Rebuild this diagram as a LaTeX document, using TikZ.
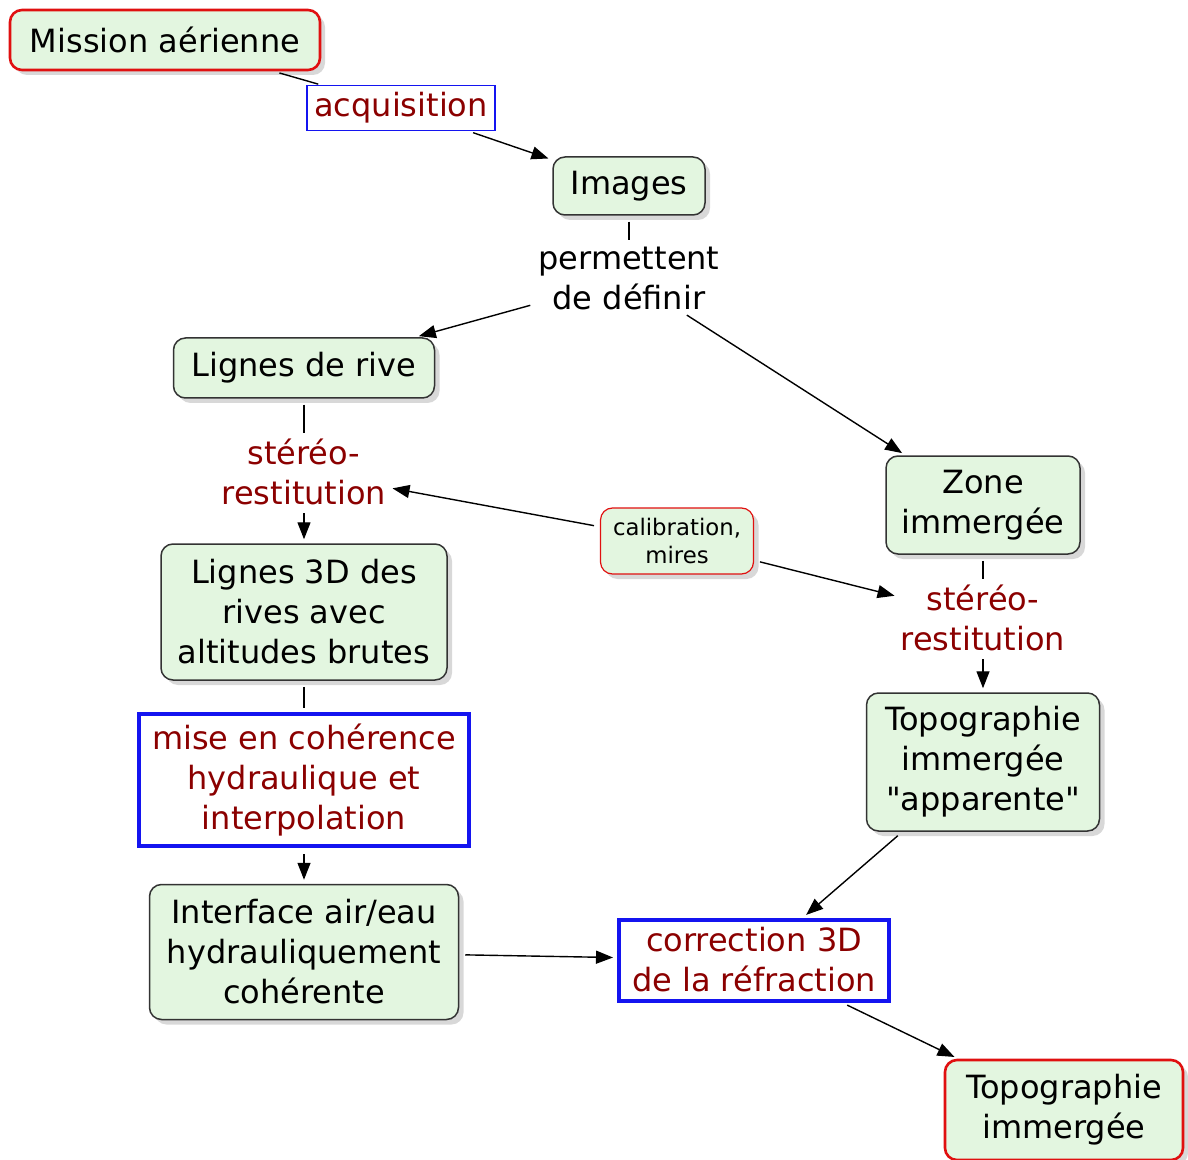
\documentclass[tikz,border=0pt]{standalone}
\usepackage{fontspec}
\setmainfont{DejaVu Sans}
\usetikzlibrary{positioning,arrows.meta,shadows}
\definecolor{conceptbg}{HTML}{E3F6E0}
\definecolor{linkred}{HTML}{8B0000}
\definecolor{rootred}{HTML}{E01010}
\definecolor{procblue}{HTML}{1414F0}
\definecolor{edgegray}{HTML}{333333}

\tikzset{
  concept/.style={draw=edgegray, line width=0.75pt, rounded corners=6pt, fill=conceptbg, align=center,
    drop shadow={shadow xshift=2.5pt, shadow yshift=-2.5pt, fill=black!30}},
  rootconcept/.style={concept, draw=rootred, line width=1.3pt},
  linkbox/.style={draw=procblue, line width=0.6pt, fill=white, text=linkred, align=center},
  procbox/.style={draw=procblue, line width=2pt, fill=white, text=linkred, align=center},
  linklabel/.style={align=center, inner sep=1pt},
  link/.style={line width=0.7pt, shorten <=3pt, shorten >=2pt},
}

\begin{document}
\begin{tikzpicture}[x=0.5pt, y=-0.5pt, >={Triangle[length=8.5pt,width=6.5pt]}, font=\fontsize{16}{20}\selectfont]
  \useasboundingbox (0,0) rectangle (1188,1160);

  % Acquisition
  \node[rootconcept, minimum width=155pt, minimum height=30pt] (mission) at (165,40) {Mission aérienne};
  \node[linkbox, minimum width=94pt, minimum height=21.5pt] (acq) at (401,108) {acquisition};
  \node[concept, minimum width=76pt, minimum height=29pt] (images) at (629,186) {Images};
  \node[linklabel] (define) at (629,278) {permettent\\de définir};

  % Left branch: banks
  \node[concept, minimum width=130.5pt, minimum height=30pt] (rive) at (304,368) {Lignes de rive};
  \node[linklabel, text=linkred] (stereoL) at (304,472) {stéréo-\\restitution};
  \node[concept, minimum width=143pt, minimum height=68pt] (rive3d) at (304,612) {Lignes 3D des\\rives avec\\altitudes brutes};
  \node[procbox, minimum width=165pt, minimum height=66pt] (coher) at (304,780) {mise en cohérence\\hydraulique et\\interpolation};
  \node[concept, minimum width=154.5pt, minimum height=67.5pt] (iface) at (304,952) {Interface air/eau\\hydrauliquement\\cohérente};

  % Right branch: submerged zone
  \node[concept, minimum width=97pt, minimum height=49pt] (zone) at (983,505) {Zone\\immergée};
  \node[concept, draw=rootred, line width=0.6pt, minimum width=76.5pt, minimum height=33pt,
    font=\fontsize{11.4}{14}\selectfont] (calib) at (677,541) {calibration,\\mires};
  \node[linklabel, text=linkred] (stereoR) at (983,618) {stéréo-\\restitution};
  \node[concept, minimum width=116.5pt, minimum height=69pt] (topoapp) at (983,762) {Topographie\\immergée\\\textquotedbl apparente\textquotedbl};
  \node[procbox, minimum width=135pt, minimum height=40.5pt] (refr) at (754,960) {correction 3D\\de la réfraction};
  \node[rootconcept, minimum width=119pt, minimum height=50pt] (topo) at (1064,1110) {Topographie\\immergée};

  % Connectors
  \draw[link] (mission) -- (acq);
  \draw[link, ->] (acq) -- (images);
  \draw[link] (images) -- (define);
  \draw[link, ->] (define) -- (rive);
  \draw[link, ->] (define) -- (zone);
  \draw[link] (rive) -- (stereoL);
  \draw[link, ->] (stereoL) -- (rive3d);
  \draw[link, ->] (calib) -- (stereoL);
  \draw[link, ->] (calib) -- (stereoR);
  \draw[link] (zone) -- (stereoR);
  \draw[link, ->] (stereoR) -- (topoapp);
  \draw[link] (rive3d) -- (coher);
  \draw[link, ->] (coher) -- (iface);
  \draw[link, ->] (iface) -- (refr);
  \draw[link, ->] (topoapp) -- (refr);
  \draw[link, ->] (refr) -- (topo);
\end{tikzpicture}
\end{document}
